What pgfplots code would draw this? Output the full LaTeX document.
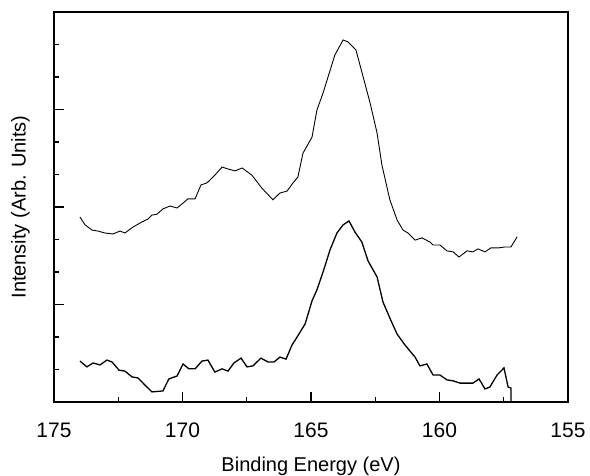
\documentclass[border=0pt]{standalone}
\usepackage{fontspec}
\setmainfont{Liberation Sans}
\usepackage{pgfplots}
\pgfplotsset{compat=1.18}
\begin{document}
\begin{tikzpicture}
\path[use as bounding box] (-27pt,-37pt) rectangle (268pt,201pt);
\begin{axis}[
  scale only axis,
  width=257pt, height=195pt,
  at={(0,0)}, anchor=south west,
  x dir=reverse,
  xmin=155, xmax=175, ymin=0, ymax=12,
  axis line style={line width=0.6pt},
  xtick={155,160,165,170,175},
  minor xtick={157.5,162.5,167.5,172.5},
  ytick={3,6,9},
  minor ytick={1,2,4,5,7,8,10,11},
  yticklabels={},
  tick align=inside,
  xtick pos=bottom, ytick pos=left,
  major tick length=5pt, minor tick length=2.5pt,
  tick style={line width=0.6pt, black},
  /pgf/number format/assume math mode=true,
  ticklabel style={font=\fontsize{10.5}{12}\selectfont},
  xticklabel style={yshift=-6.8pt},
  label style={font=\fontsize{9.5}{11}\selectfont},
  every axis x label/.style={at={(axis description cs:0.5,-0.122)}, anchor=north},
  every axis y label/.style={at={(axis description cs:-0.0335,0.5)}, rotate=90, anchor=south},
  xlabel={Binding Energy (eV)},
  ylabel={Intensity (Arb. Units)},
]
\addplot[black, line width=0.45pt] coordinates {
(173.99,5.69) (173.79,5.45) (173.52,5.29) (173.29,5.26) (173.02,5.20)
(172.70,5.17) (172.43,5.26) (172.24,5.20) (171.93,5.38) (171.58,5.54)
(171.34,5.63) (171.19,5.75) (170.99,5.78) (170.76,5.94) (170.49,6.03)
(170.21,5.97) (169.98,6.12) (169.79,6.25) (169.51,6.25) (169.28,6.68)
(169.05,6.74) (168.74,6.98) (168.46,7.23) (168.23,7.17) (167.96,7.11)
(167.68,7.20) (167.30,6.98) (166.91,6.58) (166.48,6.22) (166.21,6.43)
(165.93,6.49) (165.70,6.74) (165.51,6.92) (165.31,7.66) (164.96,8.15)
(164.77,8.98) (164.53,9.51) (164.07,10.68) (163.75,11.14) (163.56,11.08)
(163.25,10.83) (163.02,10.15) (162.70,9.20) (162.43,8.28) (162.24,7.29)
(161.93,6.22) (161.65,5.60) (161.42,5.29) (161.23,5.20) (160.95,4.98)
(160.68,5.05) (160.37,4.92) (160.25,4.83) (159.98,4.83) (159.71,4.65)
(159.47,4.62) (159.24,4.46) (158.93,4.65) (158.70,4.62) (158.50,4.71)
(158.23,4.62) (158.00,4.74) (157.72,4.74) (157.45,4.77) (157.22,4.77)
(156.98,5.08)
};
\addplot[black, line width=0.65pt] coordinates {
(173.99,1.26) (173.72,1.08) (173.48,1.20) (173.21,1.14) (172.94,1.29)
(172.74,1.23) (172.47,0.98) (172.24,0.95) (171.96,0.77) (171.73,0.74)
(171.46,0.52) (171.19,0.31) (170.76,0.34) (170.53,0.71) (170.21,0.80)
(169.98,1.17) (169.75,1.02) (169.51,1.02) (169.24,1.26) (169.01,1.29)
(168.74,0.92) (168.46,1.02) (168.23,0.95) (168.00,1.20) (167.72,1.35)
(167.49,1.08) (167.26,1.11) (166.95,1.35) (166.67,1.23) (166.44,1.23)
(166.21,1.38) (165.97,1.32) (165.74,1.75) (165.54,2.00) (165.23,2.40)
(164.96,3.11) (164.77,3.45) (164.53,4.00) (164.26,4.68) (163.99,5.20)
(163.75,5.45) (163.52,5.57) (163.29,5.23) (163.02,4.92) (162.78,4.34)
(162.43,3.85) (162.20,3.08) (161.93,2.58) (161.65,2.09) (161.34,1.75)
(160.95,1.38) (160.76,1.11) (160.49,1.17) (160.25,0.83) (159.98,0.83)
(159.71,0.68) (159.47,0.65) (159.20,0.58) (158.70,0.58) (158.46,0.71)
(158.23,0.40) (158.04,0.46) (157.76,0.83) (157.49,1.05) (157.33,0.46)
(157.22,0.43) (157.22,0.00)
};
\end{axis}
\end{tikzpicture}
\end{document}
